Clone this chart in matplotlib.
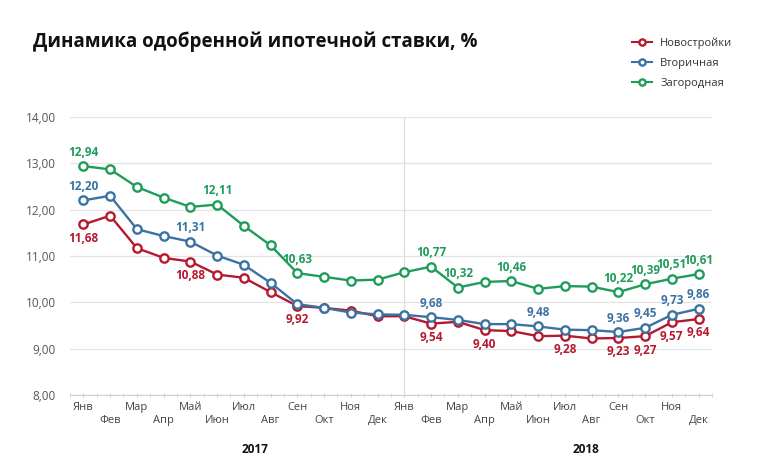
import matplotlib
matplotlib.use("Agg")
import matplotlib.pyplot as plt
import numpy as np

plt.rcParams['font.family'] = ['Open Sans', 'DejaVu Sans']

# months, two years
months = ['Янв', 'Фев', 'Мар', 'Апр', 'Май', 'Июн', 'Июл', 'Авг', 'Сен', 'Окт', 'Ноя', 'Дек'] * 2
years = ['2017', '2018']

novostroyki = [11.68, 11.87, 11.17, 10.96, 10.88, 10.60, 10.53, 10.22, 9.92, 9.88, 9.82, 9.70,
               9.70, 9.54, 9.58, 9.40, 9.38, 9.27, 9.28, 9.22, 9.23, 9.27, 9.57, 9.64]
vtorichnaya = [12.20, 12.30, 11.58, 11.43, 11.31, 11.01, 10.81, 10.42, 9.96, 9.88, 9.78, 9.74,
               9.73, 9.68, 9.62, 9.53, 9.53, 9.48, 9.41, 9.40, 9.36, 9.45, 9.73, 9.86]
zagorodnaya = [12.94, 12.87, 12.49, 12.26, 12.06, 12.11, 11.65, 11.23, 10.63, 10.55, 10.47, 10.49,
               10.65, 10.77, 10.32, 10.44, 10.46, 10.29, 10.35, 10.34, 10.22, 10.39, 10.51, 10.61]

# which points carry a value label
novostroyki_labels = [0, 4, 8, 13, 15, 18, 20, 21, 22, 23]
vtorichnaya_labels = [0, 4, 13, 17, 20, 21, 22, 23]
zagorodnaya_labels = [0, 5, 8, 13, 14, 16, 20, 21, 22, 23]

RED = '#b5192f'
BLUE = '#3a72a4'
GREEN = '#1e9c5a'

fig = plt.figure(figsize=(7.6, 4.75), dpi=100)
ax = fig.add_axes([70 / 760, 1 - 395 / 475, 642 / 760, 278 / 475])

x = np.arange(len(months))

series = [
    ('Новостройки', novostroyki, novostroyki_labels, RED, -1),
    ('Вторичная', vtorichnaya, vtorichnaya_labels, BLUE, 1),
    ('Загородная', zagorodnaya, zagorodnaya_labels, GREEN, 1),
]

for name, vals, lab_idx, col, side in series:
    ax.plot(x, vals, '-o', color=col, linewidth=1.7, markersize=6,
            markerfacecolor='white', markeredgewidth=1.7, label=name, zorder=3)
    for i in lab_idx:
        txt = f'{vals[i]:.2f}'.replace('.', ',')
        ax.annotate(txt, (x[i], vals[i]), xytext=(0, 10 * side), textcoords='offset points',
                    ha='center', va='center', fontsize=8.5, fontweight='bold', color=col,
                    zorder=4)

ax.set_xlim(-0.5, 23.5)
ax.set_ylim(8, 14)
ax.set_yticks(np.arange(8, 14.01, 1))
ax.set_yticklabels([f'{v:.2f}'.replace('.', ',') for v in np.arange(8, 14.01, 1)],
                   fontsize=8.5, color='#555555')
ax.grid(axis='y', color='#e4e4e4', linewidth=0.9, zorder=0)
ax.set_axisbelow(True)

# separator between years
ax.axvline(12, color='#dddddd', linewidth=0.9, zorder=1)

for s in ['top', 'right', 'left']:
    ax.spines[s].set_visible(False)
ax.spines['bottom'].set_color('#d0d0d0')
ax.tick_params(axis='y', length=0, pad=10)

ax.set_xticks(x)
ax.set_xticklabels([])
ax.set_xticks(np.arange(-0.5, 23.6, 0.5), minor=True)
ax.tick_params(axis='x', which='both', length=3, color='#d0d0d0', direction='inout')

for i, m in enumerate(months):
    off = 9 if i % 2 == 0 else 18.5
    ax.annotate(m, (x[i], 8), xytext=(0, -off), textcoords='offset points',
                ha='center', va='center', fontsize=8, color='#444444',
                annotation_clip=False)

for xi, yr in zip([6.4, 18.8], years):
    ax.annotate(yr, (xi, 8), xytext=(0, -39), textcoords='offset points',
                ha='center', va='center', fontsize=8.5, fontweight='bold', color='#111111',
                annotation_clip=False)

fig.text(33 / 760, 1 - 42 / 475, 'Динамика одобренной ипотечной ставки, %',
         fontsize=13.5, fontweight='bold', color='#111111', va='center', ha='left')

leg = fig.legend(loc='upper left', bbox_to_anchor=(628 / 760, 1 - 33 / 475), frameon=False,
                 fontsize=8, handlelength=1.8, labelspacing=0.8, handletextpad=0.7,
                 borderaxespad=0)
for h in leg.legend_handles:
    h.set_markersize(4.5)
    h.set_linewidth(1.5)
for t in leg.get_texts():
    t.set_color('#333333')

fig.savefig('out.png', dpi=100, facecolor='white')
